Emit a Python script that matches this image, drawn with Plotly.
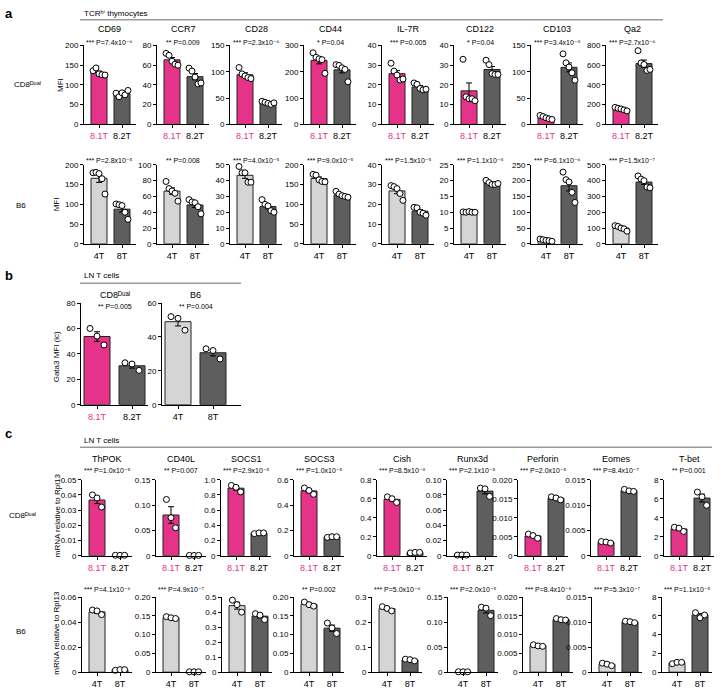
import numpy as np
import plotly.graph_objects as go

# ---------------- data ----------------
PINK = "#E6338A"
DARK = "#5E5E5E"
LIGHT = "#D5D5D5"

# Panel a : TCRhi thymocytes, MFI
a_markers = ["CD69", "CCR7", "CD28", "CD44", "IL-7R", "CD122", "CD103", "Qa2"]
a_dual_81T = [[136, 143, 128, 126, 125], [72, 70, 64, 61, 60], [108, 96, 92, 89, 87],
              [272, 255, 249, 246, 194], [31, 27, 25, 22.5, 23], [33, 14, 13, 13, 12],
              [17, 15, 12.5, 10.6, 9.4], [173, 163, 157, 147, 137]]
a_dual_82T = [[79, 70, 80, 75, 86], [57, 54, 48, 41, 42], [44, 42, 40, 38, 41],
              [227, 224, 215, 209, 162], [21, 20.3, 18.2, 17.5, 17.8], [32.5, 30.3, 25.7, 25.3, 25.3],
              [134, 117, 109, 98, 84], [747, 623, 607, 547, 557]]
a_dual_ymax = [200, 80, 150, 300, 40, 40, 150, 800]
a_dual_ystep = [50, 20, 50, 100, 10, 10, 50, 200]
a_dual_p = ["*** P=7.4x10⁻⁶", "** P=0.009", "*** P=2.3x10⁻⁶", "* P=0.04",
            "*** P=0.005", "* P=0.04", "*** P=3.4x10⁻⁸", "*** P=2.7x10⁻⁶"]

a_b6_4T = [[180, 181, 178, 165, 126], [79, 70, 67, 64, 54], [49, 45, 45, 39, 39],
           [176, 174, 162, 158, 157], [29.5, 29, 28, 25.5, 22], [10.1, 10, 10.2, 10, 10],
           [15, 13, 11, 10, 8], [115, 110, 100, 95, 80]]
a_b6_8T = [[101, 99, 97, 80, 62], [56, 53, 52, 47, 38], [28, 25, 24, 21, 20],
           [133, 126, 122, 120, 118], [18.5, 18.2, 16, 15.5, 14.5], [20.1, 19.4, 18.8, 18.8, 19.1],
           [227, 203, 196, 163, 131], [430, 410, 400, 360, 355]]
a_b6_ymax = [200, 100, 50, 200, 40, 25, 250, 500]
a_b6_ystep = [50, 20, 10, 50, 10, 5, 50, 100]
a_b6_p = ["*** P=2.8x10⁻⁵", "** P=0.008", "*** P=4.0x10⁻⁵", "*** P=9.0x10⁻⁵",
          "*** P=1.5x10⁻⁵", "*** P=1.1x10⁻⁸", "*** P=6.1x10⁻⁶", "*** P=1.5x10⁻⁷"]

# Panel b : LN T cells, Gata3 MFI (ic)
b_groups = ["CD8ᴰᵘᵃˡ", "B6"]
b_first = [[60, 54, 47], [52, 51, 44]]
b_second = [[33, 32, 27], [33, 32, 27]]
b_ymax = [80, 60]
b_ystep = [20, 20]
b_p = ["** P=0.005", "** P=0.004"]

# Panel c : LN T cells, mRNA relative to Rpl13
c_genes = ["ThPOK", "CD40L", "SOCS1", "SOCS3", "Cish", "Runx3d", "Perforin", "Eomes", "T-bet"]
c_dual_81T = [[0.040, 0.038, 0.032], [0.111, 0.075, 0.055], [0.925, 0.90, 0.84], [0.535, 0.515, 0.485],
              [0.62, 0.60, 0.56], [0.0008, 0.001, 0.0008], [0.0057, 0.0053, 0.0046],
              [0.0028, 0.0027, 0.0025], [3.0, 2.9, 2.55]]
c_dual_82T = [[0.0003, 0.0002, 0.0003], [0.0006, 0.0005, 0.0006], [0.29, 0.30, 0.30], [0.145, 0.15, 0.15],
              [0.03, 0.035, 0.035], [0.089, 0.088, 0.078], [0.0155, 0.0152, 0.0147],
              [0.0131, 0.0128, 0.0127], [6.7, 6.2, 5.3]]
c_dual_ymax = [0.05, 0.15, 1.0, 0.6, 0.8, 0.10, 0.020, 0.015, 8]
c_dual_ystep = [0.01, 0.05, 0.2, 0.2, 0.2, 0.02, 0.005, 0.005, 2]
c_dual_dec = [2, 2, 1, 1, 1, 2, 3, 3, 0]
c_dual_p = ["*** P=1.0x10⁻⁵", "** P=0.007", "*** P=2.9x10⁻⁵", "*** P=1.0x10⁻⁵",
            "*** P=8.5x10⁻⁸", "*** P=2.1x10⁻⁵", "*** P=2.0x10⁻⁵", "*** P=8.4x10⁻⁷", "** P=0.001"]

c_b6_4T = [[0.0497, 0.049, 0.046], [0.148, 0.145, 0.143], [0.48, 0.45, 0.40], [0.187, 0.18, 0.176],
           [0.262, 0.255, 0.245], [0.0008, 0.0008, 0.0008], [0.0073, 0.007, 0.0069],
           [0.0018, 0.0016, 0.0013], [0.9, 1.05, 1.05]]
c_b6_8T = [[0.0015, 0.002, 0.002], [0.001, 0.001, 0.001], [0.39, 0.38, 0.35], [0.131, 0.118, 0.103],
           [0.052, 0.05, 0.045], [0.13, 0.128, 0.113], [0.0143, 0.014, 0.0139],
           [0.0102, 0.0101, 0.0099], [6.35, 5.8, 6.1]]
c_b6_ymax = [0.06, 0.20, 0.5, 0.20, 0.3, 0.15, 0.020, 0.015, 8]
c_b6_ystep = [0.02, 0.05, 0.1, 0.05, 0.1, 0.05, 0.005, 0.005, 2]
c_b6_dec = [2, 2, 1, 2, 1, 2, 3, 3, 0]
c_b6_p = ["*** P=4.1x10⁻⁶", "*** P=4.9x10⁻⁷", "", "** P=0.002",
          "*** P=5.0x10⁻⁶", "*** P=2.0x10⁻⁵", "*** P=8.4x10⁻⁸", "*** P=5.3x10⁻⁷", "*** P=1.1x10⁻⁵"]

DUAL_LABELS = [f"<span style='color:{PINK}'>8.1T</span>", "8.2T"]
B6_LABELS = ["4T", "8T"]

# ---------------- layout helpers ----------------
W, H = 722, 690
FONT = "Liberation Sans, Arial, Helvetica, DejaVu Sans, sans-serif"
fig = go.Figure()
layout = {}
annotations = []
shapes = []
counter = [0]


def px_x(p):
    return p / W


def px_y(p):
    return 1 - p / H


def text(x, y, s, size=8, xanchor="center", angle=0, bold=False, color="black"):
    annotations.append(dict(
        x=px_x(x), y=px_y(y), xref="paper", yref="paper", text=f"<b>{s}</b>" if bold else s,
        showarrow=False, xanchor=xanchor, yanchor="middle", textangle=angle,
        font=dict(size=size, color=color, family=FONT)))


def fmt_tick(v, dec):
    if abs(v) < 1e-12:
        return "0"
    return f"{v:.{dec}f}"


def jitter(n):
    spread = 0.26 if n >= 5 else 0.2
    return np.linspace(-spread, spread, n)


def add_plot(left, top, bottom, width, g1, g2, cols, labels, ymax, ystep, dec,
             first_center=15, unit=23, bar_px=16):
    counter[0] += 1
    k = counter[0]
    xr = [-first_center / unit, (width - first_center) / unit]
    layout[f"xaxis{k}"] = dict(
        domain=[px_x(left), px_x(left + width)], anchor=f"y{k}", range=xr,
        showline=True, linecolor="black", linewidth=1, ticks="outside", ticklen=3,
        tickcolor="black", tickwidth=1, tickvals=[0, 1], ticktext=labels,
        showgrid=False, zeroline=False, tickfont=dict(size=9, family=FONT, color="black"),
        fixedrange=True)
    nt = int(round(ymax / ystep))
    tv = [i * ystep for i in range(nt + 1)]
    layout[f"yaxis{k}"] = dict(
        domain=[px_y(bottom), px_y(top)], anchor=f"x{k}", range=[0, ymax],
        showline=True, linecolor="black", linewidth=1, ticks="outside", ticklen=3,
        tickcolor="black", tickwidth=1, tickvals=tv, ticktext=[fmt_tick(v, dec) for v in tv],
        showgrid=False, zeroline=False, tickfont=dict(size=8, family=FONT, color="black"),
        fixedrange=True)
    means = [float(np.mean(g)) for g in (g1, g2)]
    sems = [float(np.std(g, ddof=1) / np.sqrt(len(g))) for g in (g1, g2)]
    fig.add_trace(go.Bar(
        x=[0, 1], y=means, width=bar_px / unit,
        marker=dict(color=cols, line=dict(color="#222222", width=1)),
        error_y=dict(type="data", array=sems, visible=True, color="black", thickness=1, width=3),
        xaxis=f"x{k}", yaxis=f"y{k}", showlegend=False, hoverinfo="skip"))
    xs, ys = [], []
    for i, g in enumerate((g1, g2)):
        xs += list(i + jitter(len(g)))
        ys += list(g)
    fig.add_trace(go.Scatter(
        x=xs, y=ys, mode="markers", cliponaxis=False,
        marker=dict(color="white", size=6, line=dict(color="black", width=1)),
        xaxis=f"x{k}", yaxis=f"y{k}", showlegend=False, hoverinfo="skip"))
    return left + width / 2


# ---------------- panel a ----------------
text(3, 10, "a", size=13, xanchor="left", bold=True)
text(82, 10, "TCRʰⁱ thymocytes", size=8, xanchor="left")
shapes.append(dict(type="line", xref="paper", yref="paper", x0=px_x(80), x1=px_x(663),
                   y0=px_y(16), y1=px_y(16), line=dict(color="#9a9a9a", width=1.5)))
a_lefts = [84, 157, 230, 304, 382, 454, 531, 606]
for i, m in enumerate(a_markers):
    cx = add_plot(a_lefts[i], 42, 122, 52, a_dual_81T[i], a_dual_82T[i], [PINK, DARK], DUAL_LABELS,
                  a_dual_ymax[i], a_dual_ystep[i], 0)
    text(cx, 25, m, size=9)
    text(cx, 39, a_dual_p[i], size=7)
for i in range(len(a_markers)):
    cx = add_plot(a_lefts[i], 163, 243, 52, a_b6_4T[i], a_b6_8T[i], [LIGHT, DARK], B6_LABELS,
                  a_b6_ymax[i], a_b6_ystep[i], 0)
    text(cx, 159, a_b6_p[i], size=7)
text(28, 82, "CD8ᴰᵘᵃˡ", size=8)
text(21, 204, "B6", size=8)
text(61, 82, "MFI", size=8, angle=-90)
text(56, 203, "MFI", size=8, angle=-90)

# ---------------- panel b ----------------
text(3, 275, "b", size=13, xanchor="left", bold=True)
text(82, 275, "LN T cells", size=8, xanchor="left")
shapes.append(dict(type="line", xref="paper", yref="paper", x0=px_x(80), x1=px_x(241),
                   y0=px_y(283), y1=px_y(283), line=dict(color="#9a9a9a", width=1.5)))
b_lefts = [81, 162]
b_widths = [67, 79]
b_cols = [[PINK, DARK], [LIGHT, DARK]]
b_labels = [DUAL_LABELS, B6_LABELS]
for i, g in enumerate(b_groups):
    cx = add_plot(b_lefts[i], 303, 406, b_widths[i], b_first[i], b_second[i], b_cols[i], b_labels[i],
                  b_ymax[i], b_ystep[i], 0, first_center=16, unit=35, bar_px=26)
    text(b_lefts[i] + 16 + 17.5, 295, g, size=9)
    text(b_lefts[i] + 16 + 17.5, 307, b_p[i], size=7)
text(56, 357, "Gata3 MFI (ic)", size=8, angle=-90)

# ---------------- panel c ----------------
text(3, 435, "c", size=13, xanchor="left", bold=True)
text(82, 442, "LN T cells", size=8, xanchor="left")
shapes.append(dict(type="line", xref="paper", yref="paper", x0=px_x(80), x1=px_x(712),
                   y0=px_y(449), y1=px_y(449), line=dict(color="#9a9a9a", width=1.5)))
c_lefts1 = [82, 156, 221, 294, 377, 447, 518, 591, 664]
c_lefts2 = [82, 156, 222, 294, 372, 448, 523, 592, 662]
for i, gname in enumerate(c_genes):
    cx = add_plot(c_lefts1[i], 482, 559, 50, c_dual_81T[i], c_dual_82T[i], [PINK, DARK], DUAL_LABELS,
                  c_dual_ymax[i], c_dual_ystep[i], c_dual_dec[i])
    text(cx, 461, gname, size=9)
    text(cx, 473, c_dual_p[i], size=7)
for i in range(len(c_genes)):
    cx = add_plot(c_lefts2[i], 601, 677, 50, c_b6_4T[i], c_b6_8T[i], [LIGHT, DARK], B6_LABELS,
                  c_b6_ymax[i], c_b6_ystep[i], c_b6_dec[i])
    if c_b6_p[i]:
        text(cx, 593, c_b6_p[i], size=7)
text(22, 518, "CD8ᴰᵘᵃˡ", size=8)
text(21, 636, "B6", size=8)
text(57, 518, "mRNA relative to Rpl13", size=8, angle=-90)
text(57, 637, "mRNA relative to Rpl13", size=8, angle=-90)

fig.update_layout(
    width=W, height=H, margin=dict(l=0, r=0, t=0, b=0),
    paper_bgcolor="white", plot_bgcolor="rgba(0,0,0,0)",
    font=dict(family=FONT, size=8, color="black"),
    showlegend=False, annotations=annotations, shapes=shapes, **layout)

fig.write_html("out.html")
